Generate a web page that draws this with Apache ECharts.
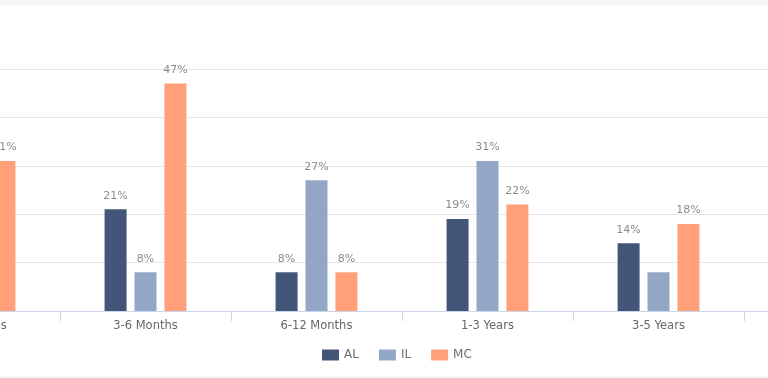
<!DOCTYPE html>
<html>
<head>
<meta charset="utf-8">
<script src="https://cdn.jsdelivr.net/npm/echarts@6/dist/echarts.min.js"></script>
<style>html,body{margin:0;padding:0;background:#fff;}#c{width:768px;height:378px;}</style>
</head>
<body>
<div id="c"></div>
<script>
const categories = ["0-3 Months", "3-6 Months", "6-12 Months", "1-3 Years", "3-5 Years", "5+ Years"];
const alValues = [20, 21, 8, 19, 14, 18];
const ilValues = [18, 8, 27, 31, 8, 8];
const mcValues = [31, 47, 8, 22, 18, 10];
const hiddenLabels = { IL: [4] };
const yTicks = [0, 10, 20, 30, 40, 50];

const chart = echarts.init(document.getElementById('c'), null, { renderer: 'canvas' });
const font = '"DejaVu Sans", Verdana, sans-serif';

function mk(name, vals, color) {
  const hide = hiddenLabels[name] || [];
  return {
    name: name,
    type: 'bar',
    barWidth: 22,
    barGap: '36%',
    itemStyle: { color: color },
    label: {
      show: true, position: 'top', distance: 8,
      formatter: '{c}%', color: '#8c8c8c', fontSize: 11, fontFamily: font
    },
    data: vals.map((v, i) => hide.includes(i) ? { value: v, label: { show: false } } : v)
  };
}

chart.setOption({
  animation: false,
  graphic: [
    { type: 'rect', shape: { x: 0, y: 0, width: 768, height: 5 }, style: { fill: '#f5f5f5' }, silent: true },
    { type: 'rect', shape: { x: 0, y: 376, width: 768, height: 2 }, style: { fill: '#f5f5f5' }, silent: true }
  ],
  grid: { left: -111, top: 69, width: 1026, bottom: 67, containLabel: false, outerBoundsMode: 'none' },
  legend: {
    left: 322, top: 349, padding: 0,
    itemWidth: 17, itemHeight: 11, itemGap: 20,
    icon: 'rect',
    textStyle: { color: '#6f6f6f', fontSize: 12, fontFamily: font },
    data: ['AL', 'IL', 'MC']
  },
  xAxis: {
    type: 'category',
    data: categories,
    axisLine: { lineStyle: { color: '#ccd6eb', width: 1 } },
    axisTick: { show: true, length: 10, lineStyle: { color: '#ccd6eb' } },
    axisLabel: { color: '#666', fontSize: 11.5, fontFamily: font, margin: 9, hideOverlap: false, interval: 0 }
  },
  yAxis: {
    type: 'value',
    min: yTicks[0], max: yTicks[yTicks.length - 1], interval: 10,
    axisLabel: { show: false },
    axisLine: { show: false },
    axisTick: { show: false },
    splitLine: { lineStyle: { color: '#e6e6e6', width: 1 } }
  },
  series: [
    mk('AL', alValues, '#44557a'),
    mk('IL', ilValues, '#93a6c6'),
    mk('MC', mcValues, '#ffa07a')
  ]
});
</script>
</body>
</html>
